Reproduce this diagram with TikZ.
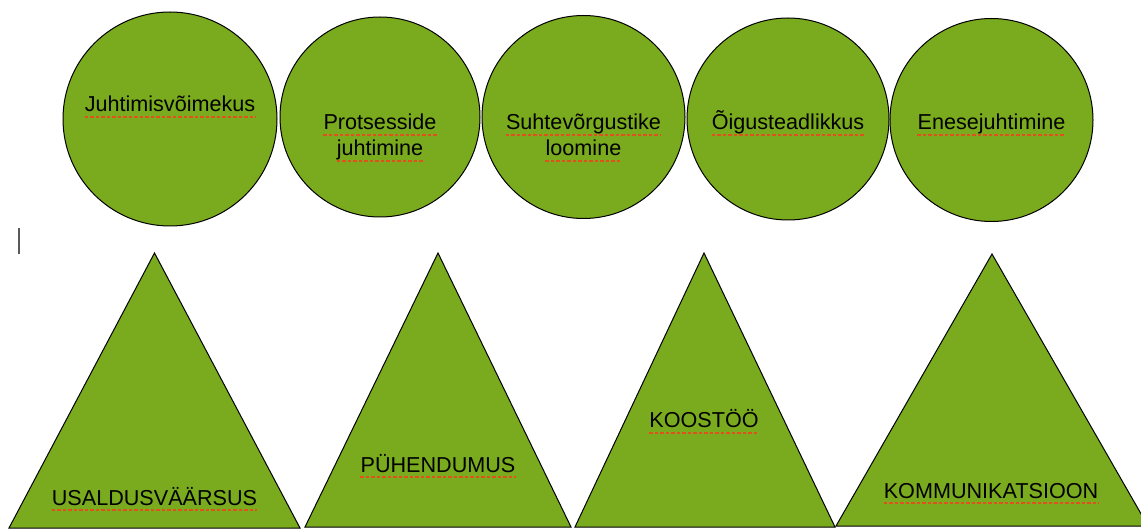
\documentclass[tikz,border=0pt]{standalone}
\usepackage{fontspec}
\setmainfont{Liberation Sans}
\usetikzlibrary{calc}
\definecolor{leaf}{HTML}{7AAA1E}
\definecolor{spell}{HTML}{E2501C}
\tikzset{
  bubble/.style={circle,draw=black,line width=1pt,fill=leaf,inner sep=0pt},
  lbl/.style={anchor=base,inner sep=0pt,font=\fontsize{21.6}{26}\selectfont},
  tri/.style={draw=black,line width=1pt,fill=leaf,line join=miter},
  squiggle/.style={draw=spell,line width=2.3pt,dash pattern=on 3.5pt off 2pt},
  cursorline/.style={draw=black!65,line width=1.2pt},
}
\newcommand\spellmark[1]{\draw[squiggle] ($(#1.base west)+(0,5)$) -- ($(#1.base east)+(0,5)$);}
\begin{document}
\begin{tikzpicture}[x=1pt,y=-1pt]
\useasboundingbox (0,0) rectangle (1141,529);
\fill[white] (0,0) rectangle (1141,529);
% circles
\node[bubble,minimum size=214pt] (c1) at (170,119) {};
\node[bubble,minimum size=200pt] (c2) at (380,117) {};
\node[bubble,minimum size=203pt] (c3) at (583.5,117) {};
\node[bubble,minimum size=202pt] (c4) at (788,119) {};
\node[bubble,minimum size=203pt] (c5) at (991.5,120) {};
% circle labels
\node[lbl] (t1) at (170,112) {Juhtimisvõimekus};
\node[lbl] (t2a) at (380,130) {Protsesside};
\node[lbl] (t2b) at (380,156) {juhtimine};
\node[lbl] (t3a) at (583.5,130) {Suhtevõrgustike};
\node[lbl] (t3b) at (583.5,156) {loomine};
\node[lbl] (t4) at (788,130) {Õigusteadlikkus};
\node[lbl] (t5) at (991.5,130) {Enesejuhtimine};
% cursor mark
\coordinate (k1) at (19,228);
\coordinate (k2) at (19,254);
\draw[cursorline] (k1) -- (k2);
% triangles
\coordinate (a1) at (9,528);   \coordinate (b1) at (300,528);  \coordinate (p1) at (154.5,253);
\coordinate (a2) at (305,527); \coordinate (b2) at (571,527);  \coordinate (p2) at (438,253);
\coordinate (a3) at (575,527); \coordinate (b3) at (835,527);  \coordinate (p3) at (704,253);
\coordinate (a4) at (836,526); \coordinate (b4) at (1148,526); \coordinate (p4) at (992,254);
\draw[tri] (a1) -- (b1) -- (p1) -- cycle;
\draw[tri] (a2) -- (b2) -- (p2) -- cycle;
\draw[tri] (a3) -- (b3) -- (p3) -- cycle;
\draw[tri] (a4) -- (b4) -- (p4) -- cycle;
% triangle labels
\node[lbl] (u1) at (154.5,505) {USALDUSVÄÄRSUS};
\node[lbl] (u2) at (438,472) {PÜHENDUMUS};
\node[lbl] (u3) at (704,428) {KOOSTÖÖ};
\node[lbl] (u4) at (991,498) {KOMMUNIKATSIOON};
% spell-check underlines
\spellmark{t1}\spellmark{t2a}\spellmark{t2b}\spellmark{t3a}\spellmark{t3b}
\spellmark{t4}\spellmark{t5}
\spellmark{u1}\spellmark{u2}\spellmark{u3}\spellmark{u4}
\end{tikzpicture}
\end{document}
